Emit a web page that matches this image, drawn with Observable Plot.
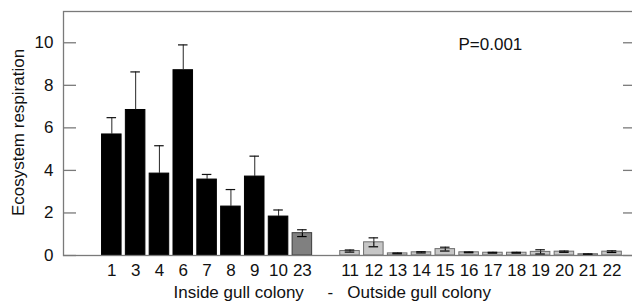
<!DOCTYPE html>
<html>
<head>
<meta charset="utf-8">
<script src="https://cdn.jsdelivr.net/npm/d3@7"></script>
<script src="https://cdn.jsdelivr.net/npm/@observablehq/plot@0.6"></script>
<style>
  html, body { margin: 0; padding: 0; background: #fff; overflow: hidden; }
  #chart { width: 632px; height: 302px; }
</style>
</head>
<body>
<div id="chart"></div>
<script>
// Site labels, in plotted order (a blank slot separates the two groups)
const sites  = ["1", "3", "4", "6", "7", "8", "9", "10", "23", "11", "12", "13", "14", "15", "16", "17", "18", "19", "20", "21", "22"];
const groups = ["inside", "inside", "inside", "inside", "inside", "inside", "inside", "inside", "mid", "outside", "outside", "outside", "outside", "outside", "outside", "outside", "outside", "outside", "outside", "outside", "outside"];
// Mean ecosystem respiration
const means  = [5.69, 6.84, 3.85, 8.71, 3.57, 2.30, 3.71, 1.83, 1.05, 0.21, 0.62, 0.10, 0.15, 0.30, 0.15, 0.13, 0.13, 0.17, 0.18, 0.06, 0.18];
// Standard errors
const errors = [0.79, 1.79, 1.31, 1.19, 0.24, 0.80, 0.96, 0.31, 0.16, 0.05, 0.21, 0.02, 0.03, 0.09, 0.02, 0.02, 0.02, 0.10, 0.03, 0.02, 0.04];
const yTicks = [0, 2, 4, 6, 8, 10];
const xDomain = ["1", "3", "4", "6", "7", "8", "9", "10", "23", " ", "11", "12", "13", "14", "15", "16", "17", "18", "19", "20", "21", "22"];
const groupFill = {inside: "#000000", mid: "#808080", outside: "#c6c6c6"};
const groupStroke = {inside: "#000000", mid: "#3a3a3a", outside: "#6e6e6e"};

const data = sites.map((s, i) => ({site: s, group: groups[i], mean: means[i], err: errors[i]}));

const font = "'Liberation Sans', Arial, sans-serif";
const axisColor = "#7a7a7a";
const fs = 17;

const plot = Plot.plot({
  width: 632,
  height: 302,
  marginTop: 11,
  marginBottom: 47,
  marginLeft: 63,
  marginRight: 0,
  style: {fontFamily: font, fontSize: fs + "px", color: "#111", background: "#fff"},
  x: {type: "band", domain: xDomain, range: [97.25, 625.6], padding: 0.18, round: false, label: null},
  y: {domain: [0, 11.47], label: null},
  marks: [
    Plot.barY(data, {x: "site", y: "mean", fill: d => groupFill[d.group], stroke: d => groupStroke[d.group], strokeWidth: 1}),
    Plot.ruleX(data, {x: "site", y1: "mean", y2: d => d.mean + d.err, stroke: "#3a3a3a", strokeWidth: 1.1}),
    Plot.ruleX(data, {x: "site", y1: d => d.mean - d.err, y2: "mean", stroke: "#000", strokeWidth: 1.1}),
    Plot.tickY(data, {x: "site", y: d => d.mean + d.err, stroke: "#111", strokeWidth: 1.2, insetLeft: 5, insetRight: 5}),
    Plot.tickY(data, {x: "site", y: d => d.mean - d.err, stroke: "#000", strokeWidth: 1.2, insetLeft: 5, insetRight: 5}),
    Plot.frame({stroke: axisColor, strokeWidth: 1.3, insetRight: -4}),
    Plot.axisY(yTicks, {anchor: "left", tickSize: -13, tickPadding: 23, stroke: axisColor, strokeWidth: 1.3, fontSize: fs, fill: "#111", label: null}),
    Plot.axisY(yTicks, {anchor: "right", tickSize: -10, tickFormat: () => "", stroke: axisColor, strokeWidth: 1.3, label: null}),
    Plot.axisX({tickSize: 0, tickPadding: 8, fontSize: fs, fill: "#111", label: null}),
    Plot.text(["Ecosystem respiration"], {frameAnchor: "left", rotate: -90, dx: -45, dy: -1, fontSize: fs, fill: "#111", textAnchor: "middle", lineAnchor: "middle"}),
    Plot.text(["Inside gull colony     -   Outside gull colony"], {frameAnchor: "bottom", dx: -15.8, dy: 37, fontSize: fs, fill: "#111", textAnchor: "middle", lineAnchor: "middle"}),
    Plot.text(["P=0.001"], {frameAnchor: "top-left", dx: 395, dy: 33, fontSize: fs, fill: "#111", textAnchor: "start", lineAnchor: "middle"})
  ]
});
document.getElementById("chart").appendChild(plot);
</script>
</body>
</html>
